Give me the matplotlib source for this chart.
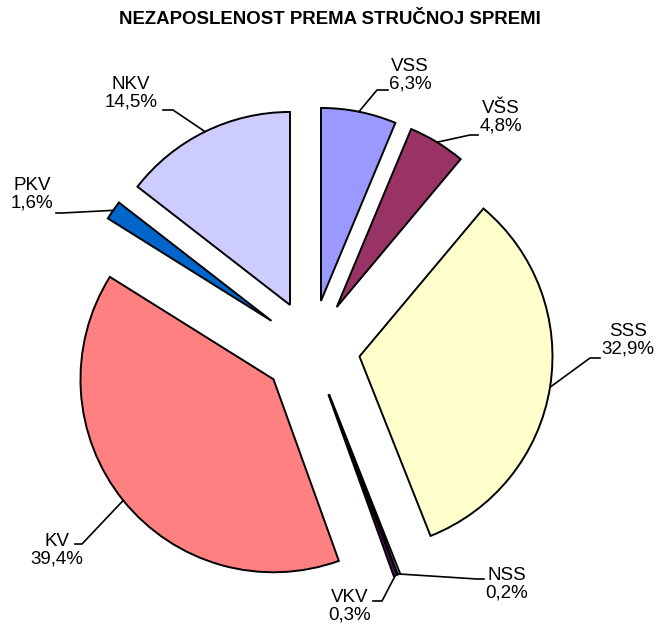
import numpy as np
import matplotlib.pyplot as plt

plt.rcParams['font.family'] = ['Liberation Sans', 'DejaVu Sans']

# data (clockwise from 12 o'clock)
categories = ['VSS', 'VŠS', 'SSS', 'NSS', 'VKV', 'KV', 'PKV', 'NKV']
shares = [6.3, 4.8, 32.9, 0.2, 0.3, 39.4, 1.6, 14.5]
colors = ['#9999FF', '#993366', '#FFFFCC', '#CCFFFF', '#660066', '#FF8080', '#0066CC', '#CCCCFF']

W, H = 659, 627
fig = plt.figure(figsize=(W / 100, H / 100), dpi=100)
ax = fig.add_axes([0, 0, 1, 1])

# explode is in data units (pixels here)
wedges, _ = ax.pie(shares, colors=colors, startangle=90, counterclock=False,
                   explode=[48.7] * len(shares), center=(311.4, H - 348.7), radius=193,
                   wedgeprops=dict(edgecolor='black', linewidth=1.4))
ax.set_xlim(0, W)
ax.set_ylim(0, H)
ax.set_aspect('equal')
ax.axis('off')

# label text centre (px from top), leader elbow, end of short horizontal
label_pos = {
    'VSS': ((410, 75), (377, 90), 388),
    'VŠS': ((501, 117), (470, 135), 478),
    'SSS': ((628, 340), (590, 358), 600),
    'NSS': ((507, 584), (477, 579), 484),
    'VKV': ((350, 606), (382, 601), 373),
    'KV': ((57, 550), (82, 544), 75),
    'PKV': ((32, 194), (62, 213), 56),
    'NKV': ((131, 93), (173, 110), 163),
}

for w, cat, val in zip(wedges, categories, shares):
    ang = np.deg2rad((w.theta1 + w.theta2) / 2)
    cx, cy = w.center
    px = cx + w.r * np.cos(ang)
    py = cy + w.r * np.sin(ang)
    (tx, ty), (ex, ey), hx = label_pos[cat]
    txt = f"{cat}\n{val:.1f}%".replace('.', ',')
    ax.text(tx, H - ty, txt, ha='center', va='center', fontsize=13.5,
            linespacing=1.05)
    ax.plot([px, ex, hx], [py, H - ey, H - ey], color='black', lw=1.2)

fig.text(0.5, 1 - 20 / H, 'NEZAPOSLENOST PREMA STRUČNOJ SPREMI',
         ha='center', va='center', fontsize=13.4, fontweight='bold')

fig.savefig('out.png', dpi=100)
